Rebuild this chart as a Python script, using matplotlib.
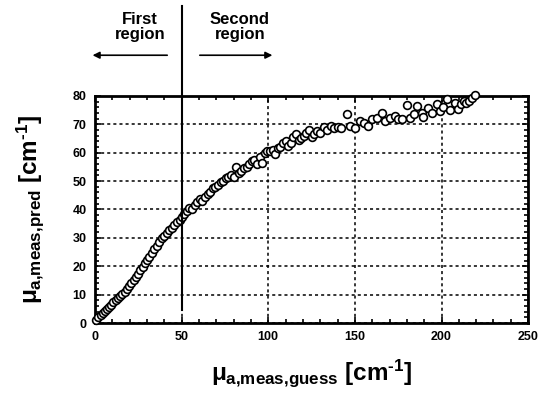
import matplotlib
matplotlib.use("Agg")
import matplotlib.pyplot as plt
from matplotlib.ticker import MultipleLocator

plt.rcParams['font.family'] = ['Liberation Sans', 'DejaVu Sans']
plt.rcParams['font.weight'] = 'bold'
plt.rcParams['mathtext.fontset'] = 'custom'
plt.rcParams['mathtext.rm'] = 'Liberation Sans:bold'
plt.rcParams['mathtext.it'] = 'Liberation Sans:bold'
plt.rcParams['mathtext.bf'] = 'Liberation Sans:bold'

# Data
x_guess = [0.8, 2.0, 3.2, 4.4, 5.6, 6.8, 8.0, 9.3, 10.6, 11.9, 13.2, 14.5, 15.8, 17.1,
           18.4, 19.7, 21.0, 22.3, 23.6, 24.9, 26.2, 27.5, 28.8, 30.1, 31.4, 32.8, 34.2,
           35.6, 37.0, 38.4, 39.8, 41.3, 42.8, 44.3, 45.8, 47.3, 48.8, 50.2,
           51.5, 53, 54.5, 56, 57.5, 59, 60.5, 62, 63.5, 65, 66.5, 68, 69.5, 71, 72.5, 74,
           75.5, 77, 78.5, 80, 81.5, 83, 84.5, 86, 87.5, 89, 90.5, 92, 93.5, 95, 96.5, 98,
           99.5, 101, 102.5, 104, 105.5, 107, 108.5, 110, 111.5, 113, 114.5, 116, 117.5,
           119, 120.5, 122, 123.5, 125, 126.5, 128, 130, 132, 134, 136, 138,
           140, 142, 145.3, 147, 150, 153, 155, 157.6, 159.7, 162.6, 165.5, 167.4, 170,
           173, 175, 177, 180, 181.9, 184, 185.7, 188.6, 189.6, 192, 194.7, 197.2, 199,
           201, 203, 205, 207.8, 209.8, 211, 212.7, 214, 215.6, 217.5, 219.5]
y_pred = [1.2, 2.0, 2.8, 3.6, 4.3, 5.0, 5.7, 6.5, 7.3, 8.0, 8.7, 9.4, 10.1, 11.0,
          12.0, 13.0, 14.1, 15.2, 16.3, 17.4, 18.6, 19.8, 21.0, 22.2, 23.4, 24.7, 25.9,
          27.2, 28.5, 29.8, 30.7, 31.6, 32.6, 33.6, 34.5, 35.4, 36.3, 37.4,
          38.5, 39.5, 40.5, 40.0, 41.5, 42.5, 43.5, 43.0, 44.5, 45.5, 46.0, 47.5, 48.0,
          48.5, 49.5, 50.0, 51.0, 51.5, 52.0, 51.5, 55.0, 53.0, 53.5, 54.5, 55.0, 56.0,
          57.0, 57.5, 56.0, 58.5, 56.5, 60.0, 60.5, 60.5, 61.0, 59.5, 61.5, 62.0, 63.5,
          64.0, 62.5, 63.5, 65.5, 66.5, 64.5, 65.0, 66.0, 67.0, 68.0, 65.5, 66.5, 67.5,
          67.0, 69.0, 68.0, 69.5, 68.5,
          69.0, 68.5, 73.5, 69.5, 68.8, 71.1, 70.5, 69.4, 71.7, 72.3, 74.1, 71.1, 72.3,
          72.9, 72.0, 71.7, 76.7, 72.3, 73.5, 76.4, 74.1, 72.7, 75.6, 74.1, 77.0, 74.5,
          76.0, 78.8, 75.0, 77.6, 75.3, 77.0, 78.2, 77.5, 78.2, 79.3, 80.2]

fig = plt.figure(figsize=(5.49, 4.01), dpi=100)
ax = fig.add_axes([0.173, 0.1945, 0.789, 0.5665])

ax.plot(x_guess, y_pred, linestyle='none', marker='o', markersize=5.6,
        markerfacecolor='white', markeredgecolor='black', markeredgewidth=1.2,
        clip_on=False, zorder=3)

ax.set_xlim(0, 250)
ax.set_ylim(0, 80)
ax.xaxis.set_major_locator(MultipleLocator(50))
ax.xaxis.set_minor_locator(MultipleLocator(10))
ax.yaxis.set_major_locator(MultipleLocator(10))
ax.yaxis.set_minor_locator(MultipleLocator(2))
ax.tick_params(which='both', direction='in', top=True, right=True, width=1.2)
ax.tick_params(which='major', length=4, labelsize=9, pad=6)
ax.tick_params(which='minor', length=3)
for lbl in ax.get_xticklabels() + ax.get_yticklabels():
    lbl.set_fontweight('bold')
for s in ax.spines.values():
    s.set_linewidth(2)
ax.grid(True, which='major', color='black', linestyle=(0, (2, 2)), linewidth=1.1)

ax.set_xlabel(r'$μ_{a{,}meas{,}guess}$ [cm$^{\text{-1}}$]', fontsize=17.5,
              fontweight='bold', labelpad=10)
ax.set_ylabel(r'$μ_{a{,}meas{,}pred}$ [cm$^{\text{-1}}$]', fontsize=17.5,
              fontweight='bold', labelpad=19)

# Region divider and annotations
ax.plot([50, 50], [4.6, 111.5], color='black', linewidth=1.5, clip_on=False, zorder=4)
ax.annotate('', xy=(-3, 94.3), xytext=(43.3, 94.3), annotation_clip=False,
            arrowprops=dict(arrowstyle='-|>', color='black', lw=1.2, mutation_scale=10))
ax.annotate('', xy=(104, 94.3), xytext=(58.9, 94.3), annotation_clip=False,
            arrowprops=dict(arrowstyle='-|>', color='black', lw=1.2, mutation_scale=10))
ax.text(26, 104.3, 'First\nregion', ha='center', va='center', fontsize=12,
        fontweight='bold', linespacing=1.0, clip_on=False)
ax.text(83.7, 104.3, 'Second\nregion', ha='center', va='center', fontsize=12,
        fontweight='bold', linespacing=1.0, clip_on=False)

fig.savefig('out.png', dpi=100)
